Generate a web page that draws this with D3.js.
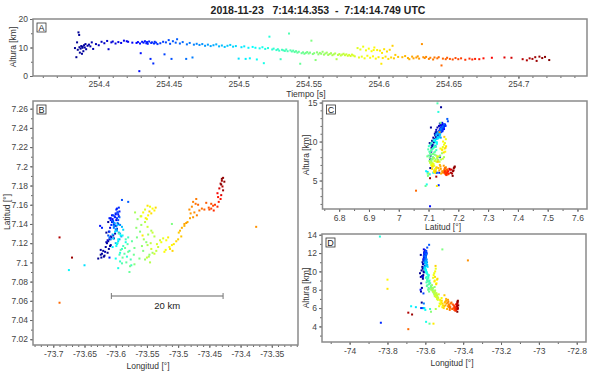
<!DOCTYPE html>
<html>
<head>
<meta charset="utf-8">
<script src="https://cdn.jsdelivr.net/npm/d3@7"></script>
<style>
body { margin: 0; background: #fff; }
svg { display: block; font-family: "Liberation Sans", Arial, sans-serif; }
.tick text { fill: #444; font-size: 8.5px; }
.tick line { stroke: #666; }
</style>
</head>
<body>
<div id="chart"></div>
<script>
// Fuentes: tiempo [s], altura [km], latitud [deg], longitud [deg]
var tiempo = [
  254.383, 254.384, 254.3845, 254.385, 254.3855, 254.386, 254.3862, 254.3865, 254.387, 254.3875, 254.388, 254.3883,
  254.3885, 254.389, 254.3895, 254.39, 254.3905, 254.391, 254.392, 254.393, 254.394, 254.395, 254.396,
  254.398, 254.4, 254.402, 254.404, 254.406, 254.407, 254.409, 254.41, 254.412, 254.414, 254.416, 254.418, 254.42, 254.421, 254.424,
  254.427, 254.428, 254.429, 254.4295, 254.43, 254.431, 254.432, 254.433, 254.434, 254.4345, 254.435, 254.436, 254.437, 254.4375,
  254.438, 254.439, 254.4395, 254.44, 254.441, 254.442,
  254.444, 254.446, 254.447, 254.448, 254.45, 254.451, 254.452, 254.453, 254.455, 254.456, 254.458, 254.46, 254.4625, 254.463,
  254.465, 254.467, 254.468, 254.47,
  254.472, 254.474, 254.476, 254.478, 254.48, 254.482, 254.484, 254.486, 254.488, 254.49, 254.492, 254.494, 254.496, 254.498,
  254.5, 254.502, 254.504, 254.505, 254.507, 254.508, 254.51,
  254.512, 254.513, 254.515, 254.517, 254.518, 254.519, 254.521, 254.522, 254.524, 254.525, 254.527, 254.528, 254.529, 254.53,
  254.531, 254.532, 254.533, 254.534, 254.535, 254.536, 254.537, 254.538, 254.539, 254.54, 254.541, 254.542, 254.543, 254.544,
  254.545, 254.546, 254.547, 254.548,
  254.549, 254.55, 254.551, 254.552, 254.553, 254.554, 254.555, 254.556, 254.557, 254.558, 254.559, 254.56, 254.561, 254.562,
  254.563, 254.564, 254.565, 254.566, 254.567, 254.568, 254.569, 254.57, 254.571, 254.572, 254.573, 254.574, 254.575, 254.576,
  254.577, 254.578, 254.579, 254.58, 254.581, 254.582, 254.583,
  254.585, 254.586, 254.587, 254.588, 254.589, 254.59, 254.591, 254.592, 254.593, 254.594, 254.595, 254.596, 254.5965, 254.597,
  254.598, 254.599, 254.6, 254.601, 254.602, 254.6025, 254.603, 254.604, 254.605, 254.606, 254.607, 254.608, 254.609, 254.61,
  254.611, 254.612, 254.614,
  254.617, 254.619, 254.621, 254.622, 254.624, 254.625, 254.627, 254.628, 254.629, 254.631, 254.632, 254.633, 254.634, 254.636,
  254.637, 254.639, 254.64, 254.642, 254.643, 254.645, 254.646, 254.648, 254.649,
  254.651, 254.653, 254.655, 254.657, 254.659, 254.662, 254.665, 254.667, 254.669, 254.672, 254.675, 254.681, 254.69, 254.695,
  254.703, 254.706, 254.708, 254.71, 254.712, 254.713, 254.715, 254.717, 254.719, 254.722
];
var altura = [
  9.8, 6.6, 11.8, 9.2, 15.3, 14.4, 10.1, 8.2, 9.6, 10.5, 7.8, 9.9,
  10.3, 8.7, 10.8, 10.0, 11.2, 9.4, 10.6, 11.0, 10.4, 11.8, 9.5,
  11.2, 10.8, 12.0, 11.5, 12.3, 9.4, 11.8, 12.1, 11.4, 11.9, 11.6, 12.4, 12.2, 12.0, 11.7,
  11.6, 11.9, 1.7, 11.4, 8.0, 12.0, 11.7, 12.2, 11.5, 11.9, 11.3, 12.1, 6.0, 11.6,
  11.8, 4.4, 11.4, 12.0, 11.7, 11.2,
  11.5, 12.0, 7.6, 11.8, 12.6, 11.3, 6.0, 12.2, 11.7, 12.9, 11.4, 11.9, 6.0, 11.1,
  11.6, 6.5, 11.0, 11.3,
  10.9, 11.2, 10.6, 11.0, 10.5, 10.8, 11.1, 10.4, 10.7, 10.2, 10.6, 10.9, 10.3, 10.5,
  6.1, 10.1, 10.4, 6.0, 9.9, 6.2, 10.2,
  9.9, 5.8, 9.7, 10.1, 4.5, 9.5, 9.8, 13.8, 9.3, 9.6, 9.1, 9.4, 8.9, 5.9,
  9.2, 9.0, 8.8, 9.3, 8.7, 14.9, 9.0, 8.6, 8.9, 8.4, 8.7, 8.2, 8.5, 4.3,
  8.0, 8.3, 7.8, 8.1,
  8.4, 7.9, 8.2, 12.4, 7.7, 8.0, 5.6, 8.3, 7.6, 8.1, 7.8, 8.5, 7.5, 7.9,
  8.2, 7.4, 7.7, 8.0, 7.3, 7.6, 7.9, 5.9, 7.4, 7.7, 7.2, 7.5, 7.8, 7.3,
  7.6, 7.1, 7.4, 7.0, 7.5, 7.2, 6.9,
  9.8, 6.5, 9.3, 6.8, 10.3, 6.2, 9.0, 7.1, 9.6, 6.4, 8.7, 6.9, 9.1, 10.0,
  6.1, 9.1, 6.6, 8.9, 4.3, 8.1, 6.3, 9.4, 6.8, 8.6, 6.0, 9.2, 6.5, 10.6,
  6.2, 7.4, 6.7,
  6.6, 7.0, 6.3, 5.9, 6.8, 6.2, 6.5, 6.9, 6.1, 11.2, 6.6, 6.3, 6.7, 6.0,
  6.4, 5.8, 6.5, 6.2, 6.6, 3.7, 6.1, 5.9, 6.4,
  6.0, 5.8, 6.3, 5.9, 6.2, 5.7, 6.1, 5.8, 6.0, 5.9, 6.2, 6.4, 6.5, 6.4,
  5.9, 5.5, 6.2, 6.0, 6.6, 5.3, 6.8, 6.3, 6.7, 5.6
];
var latitud = [
  7.104, 7.106, 7.108, 7.11, 7.131, 7.142, 7.112, 7.107, 7.114, 7.116, 7.105, 7.118,
  7.12, 7.109, 7.122, 7.117, 7.124, 7.113, 7.125, 7.121, 7.127, 7.13, 7.111,
  7.128, 7.132, 7.135, 7.126, 7.138, 7.123, 7.14, 7.142, 7.136, 7.144, 7.139, 7.146, 7.148, 7.145, 7.15,
  7.152, 7.149, 7.105, 7.147, 7.138, 7.153, 7.144, 7.155, 7.141, 7.15, 7.146, 7.156, 7.136, 7.143,
  7.151, 7.134, 7.139, 7.157, 7.148, 7.142,
  7.146, 7.149, 7.132, 7.144, 7.165, 7.14, 7.128, 7.152, 7.143, 7.163, 7.138, 7.147, 7.126, 7.136,
  7.141, 7.124, 7.134, 7.139,
  7.138, 7.131, 7.135, 7.127, 7.141, 7.124, 7.133, 7.129, 7.137, 7.12, 7.13, 7.139, 7.125, 7.134,
  7.097, 7.122, 7.132, 7.116, 7.128, 7.092, 7.119,
  7.124, 7.104, 7.128, 7.117, 7.094, 7.121, 7.11, 7.133, 7.12, 7.106, 7.114, 7.101, 7.126, 7.097,
  7.117, 7.112, 7.108, 7.124, 7.103, 7.13, 7.099, 7.119, 7.109, 7.113, 7.122, 7.1, 7.105, 7.09,
  7.115, 7.108, 7.111, 7.096,
  7.115, 7.104, 7.126, 7.14, 7.112, 7.132, 7.098, 7.121, 7.108, 7.136, 7.117, 7.145, 7.103, 7.129,
  7.139, 7.11, 7.124, 7.152, 7.106, 7.133, 7.118, 7.1, 7.127, 7.142, 7.112, 7.12, 7.148, 7.105,
  7.131, 7.116, 7.137, 7.109, 7.123, 7.114, 7.119,
  7.155, 7.125, 7.148, 7.113, 7.158, 7.121, 7.145, 7.116, 7.152, 7.123, 7.156, 7.111, 7.14, 7.149,
  7.118, 7.154, 7.126, 7.146, 7.128, 7.13, 7.119, 7.159, 7.114, 7.151, 7.122, 7.157, 7.112, 7.153,
  7.124, 7.131, 7.127,
  7.133, 7.138, 7.136, 7.142, 7.14, 7.146, 7.141, 7.151, 7.147, 7.137, 7.155, 7.152, 7.158, 7.149,
  7.163, 7.166, 7.154, 7.161, 7.156, 7.058, 7.16, 7.155, 7.162,
  7.157, 7.161, 7.155, 7.159, 7.156, 7.16, 7.154, 7.158, 7.163, 7.168, 7.166, 7.172, 7.17, 7.177,
  7.179, 7.126, 7.182, 7.175, 7.185, 7.105, 7.188, 7.184, 7.187, 7.181
];
var longitud = [
  -73.628, -73.619, -73.624, -73.613, -73.615, -73.612, -73.62, -73.618, -73.611, -73.616, -73.623, -73.608,
  -73.614, -73.622, -73.612, -73.609, -73.61, -73.624, -73.603, -73.615, -73.608, -73.601, -73.617,
  -73.604, -73.611, -73.598, -73.607, -73.601, -73.613, -73.596, -73.606, -73.609, -73.599, -73.603, -73.608, -73.595, -73.605, -73.6,
  -73.597, -73.606, -73.61, -73.601, -73.625, -73.594, -73.608, -73.599, -73.603, -73.596, -73.61, -73.598, -73.622, -73.604,
  -73.6, -73.835, -73.607, -73.595, -73.602, -73.605,
  -73.598, -73.604, -73.61, -73.596, -73.59, -73.602, -73.612, -73.597, -73.605, -73.58, -73.599, -73.594, -73.61, -73.603,
  -73.597, -73.608, -73.6, -73.593,
  -73.603, -73.595, -73.599, -73.591, -73.602, -73.594, -73.598, -73.605, -73.59, -73.6, -73.593, -73.597, -73.604, -73.588,
  -73.65, -73.596, -73.601, -73.605, -73.592, -73.675, -73.598,
  -73.596, -73.6, -73.589, -73.599, -73.596, -73.584, -73.593, -73.84, -73.597, -73.582, -73.59, -73.593, -73.58, -73.575,
  -73.588, -73.578, -73.594, -73.584, -73.576, -73.595, -73.59, -73.581, -73.586, -73.592, -73.574, -73.583, -73.589, -73.578,
  -73.585, -73.571, -73.58, -73.577,
  -73.57, -73.562, -73.566, -73.51, -73.556, -73.561, -73.57, -73.551, -73.546, -73.567, -73.558, -73.565, -73.553, -73.548,
  -73.559, -73.541, -73.555, -73.569, -73.547, -73.543, -73.549, -73.545, -73.538, -73.553, -73.535, -73.544, -73.56, -73.55,
  -73.541, -73.532, -73.549, -73.538, -73.529, -73.543, -73.534,
  -73.553, -73.524, -73.559, -73.52, -73.545, -73.527, -73.55, -73.514, -73.556, -73.519, -73.541, -73.522, -73.8, -73.548,
  -73.51, -73.538, -73.516, -73.552, -73.557, -73.8, -73.507, -73.549, -73.513, -73.543, -73.503, -73.536, -73.509, -73.546,
  -73.5, -73.499, -73.495,
  -73.497, -73.49, -73.494, -73.485, -73.49, -73.481, -73.487, -73.48, -73.476, -73.375, -73.482, -73.474, -73.478, -73.47,
  -73.476, -73.471, -73.466, -73.472, -73.462, -73.69, -73.468, -73.458, -73.455,
  -73.451, -73.447, -73.45, -73.444, -73.447, -73.441, -73.443, -73.437, -73.435, -73.436, -73.432, -73.437, -73.431, -73.434,
  -73.429, -73.69, -73.432, -73.428, -73.43, -73.67, -73.428, -73.426, -73.43, -73.431
];

var titulo = '2018-11-23   7:14:14.353  -  7:14:14.749 UTC';

// ticks de cada panel
var ticksA_x = [254.4, 254.45, 254.5, 254.55, 254.6, 254.65, 254.7];
var ticksA_y = [0, 10, 20];
var ticksB_x = [-73.7, -73.65, -73.6, -73.55, -73.5, -73.45, -73.4, -73.35];
var ticksB_y = [7.02, 7.04, 7.06, 7.08, 7.1, 7.12, 7.14, 7.16, 7.18, 7.2, 7.22, 7.24, 7.26];
var ticksC_x = [6.8, 6.9, 7, 7.1, 7.2, 7.3, 7.4, 7.5, 7.6];
var ticksC_y = [5, 10, 15];
var ticksD_x = [-74, -73.8, -73.6, -73.4, -73.2, -73, -72.8];
var ticksD_y = [4, 6, 8, 10, 12, 14];

// barra de escala en B
var escalaLon = [-73.607, -73.428];
var escalaLat = 7.065;
var escalaTexto = '20 km';

var chart_width = 600;
var chart_height = 374;

var puntos = tiempo.map(function (t, i) {
    return { t: t, alt: altura[i], lat: latitud[i], lon: longitud[i] };
});

// colormap tipo jet segun el tiempo
var tMin = d3.min(tiempo), tMax = d3.max(tiempo);
var color = d3.scaleLinear()
    .domain([0, 0.125, 0.375, 0.625, 0.875, 1].map(function (f) { return tMin + f * (tMax - tMin); }))
    .range(['#00008f', '#0000ff', '#00ffff', '#ffff00', '#ff0000', '#800000']);

var svg = d3.select('#chart')
    .append('svg')
    .attr('width', chart_width)
    .attr('height', chart_height);

svg.append('text')
    .attr('x', 318)
    .attr('y', 14)
    .attr('text-anchor', 'middle')
    .attr('font-size', 10.5)
    .attr('font-weight', 'bold')
    .attr('fill', '#222')
    .style('white-space', 'pre')
    .text(titulo);

function fmt(v) { return String(+v.toFixed(3)); }

function minorTicks(dom, step) {
    var a = Math.ceil(Math.min(dom[0], dom[1]) / step - 1e-9);
    var b = Math.floor(Math.max(dom[0], dom[1]) / step + 1e-9);
    return d3.range(a, b + 1).map(function (k) { return k * step; });
}

function panel(p) {
    var x = d3.scaleLinear().domain(p.xDom).range([p.x0, p.x1]);
    var y = d3.scaleLinear().domain(p.yDom).range([p.y1, p.y0]);
    var g = svg.append('g');
    var clipId = 'clip' + p.letra;

    svg.append('clipPath').attr('id', clipId)
        .append('rect')
        .attr('x', p.x0).attr('y', p.y0)
        .attr('width', p.x1 - p.x0).attr('height', p.y1 - p.y0);

    // ticks menores
    g.append('g')
        .attr('transform', 'translate(0,' + p.y1 + ')')
        .call(d3.axisBottom(x).tickValues(minorTicks(p.xDom, p.xMinor)).tickSize(2).tickFormat(''));
    g.append('g')
        .attr('transform', 'translate(' + p.x0 + ',0)')
        .call(d3.axisLeft(y).tickValues(minorTicks(p.yDom, p.yMinor)).tickSize(2).tickFormat(''));

    // ticks mayores
    g.append('g')
        .attr('transform', 'translate(0,' + p.y1 + ')')
        .call(d3.axisBottom(x).tickValues(p.xTicks).tickSize(3).tickPadding(p.pad || 3).tickFormat(fmt));
    g.append('g')
        .attr('transform', 'translate(' + p.x0 + ',0)')
        .call(d3.axisLeft(y).tickValues(p.yTicks).tickSize(3).tickPadding(2).tickFormat(fmt));

    g.selectAll('.domain').remove();

    // puntos
    g.append('g')
        .attr('clip-path', 'url(#' + clipId + ')')
        .selectAll('rect')
        .data(puntos)
        .enter()
        .append('rect')
        .attr('x', function (d) { return x(d[p.xKey]) - 1; })
        .attr('y', function (d) { return y(d[p.yKey]) - 1; })
        .attr('width', 2)
        .attr('height', 2)
        .attr('fill', function (d) { return color(d.t); });

    // marco
    g.append('rect')
        .attr('x', p.x0).attr('y', p.y0)
        .attr('width', p.x1 - p.x0).attr('height', p.y1 - p.y0)
        .attr('fill', 'none')
        .attr('stroke', '#8a8a8a')
        .attr('stroke-width', 1.5);

    // letra del panel
    g.append('rect')
        .attr('x', p.x0 + 4).attr('y', p.y0 + 4)
        .attr('width', 9).attr('height', 9)
        .attr('fill', '#fff')
        .attr('stroke', '#333')
        .attr('stroke-width', 0.8);
    g.append('text')
        .attr('x', p.x0 + 8.5).attr('y', p.y0 + 11.5)
        .attr('text-anchor', 'middle')
        .attr('font-size', 9)
        .attr('fill', '#222')
        .text(p.letra);

    // titulos de eje
    g.append('text')
        .attr('x', p.xLab[0]).attr('y', p.xLab[1])
        .attr('text-anchor', 'middle')
        .attr('font-size', 8.5)
        .attr('fill', '#333')
        .text(p.xTitulo);
    g.append('text')
        .attr('transform', 'translate(' + p.yLab[0] + ',' + p.yLab[1] + ') rotate(-90)')
        .attr('text-anchor', 'middle')
        .attr('font-size', 8.5)
        .attr('fill', '#333')
        .text(p.yTitulo);

    return { x: x, y: y, g: g };
}

panel({
    letra: 'A', x0: 33, x1: 587, y0: 19, y1: 76,
    xDom: [254.353, 254.749], yDom: [0, 20],
    xKey: 't', yKey: 'alt', pad: 2,
    xTicks: ticksA_x, yTicks: ticksA_y, xMinor: 0.01, yMinor: 5,
    xTitulo: 'Tiempo [s]', yTitulo: 'Altura [km]',
    xLab: [306, 96.5], yLab: [16, 47]
});

var B = panel({
    letra: 'B', x0: 33, x1: 298, y0: 101, y1: 345,
    xDom: [-73.7325, -73.308], yDom: [7.014, 7.268],
    xKey: 'lon', yKey: 'lat',
    xTicks: ticksB_x, yTicks: ticksB_y, xMinor: 0.01, yMinor: 0.01,
    xTitulo: 'Longitud [°]', yTitulo: 'Latitud [°]',
    xLab: [148, 369], yLab: [10, 212]
});

panel({
    letra: 'C', x0: 322.5, x1: 587, y0: 101, y1: 209,
    xDom: [6.744, 7.632], yDom: [1.35, 15.2],
    xKey: 'lat', yKey: 'alt',
    xTicks: ticksC_x, yTicks: ticksC_y, xMinor: 0.05, yMinor: 1,
    xTitulo: 'Latitud [°]', yTitulo: 'Altura [km]',
    xLab: [443, 230], yLab: [309, 155]
});

panel({
    letra: 'D', x0: 322, x1: 586, y0: 234, y1: 342,
    xDom: [-74.146, -72.751], yDom: [2.3, 14.08],
    xKey: 'lon', yKey: 'alt',
    xTicks: ticksD_x, yTicks: ticksD_y, xMinor: 0.1, yMinor: 1,
    xTitulo: 'Longitud [°]', yTitulo: 'Altura [km]',
    xLab: [452, 366], yLab: [309, 288]
});

// barra de escala de 20 km en B
var yBar = B.y(escalaLat);
B.g.append('line')
    .attr('x1', B.x(escalaLon[0])).attr('x2', B.x(escalaLon[1]))
    .attr('y1', yBar).attr('y2', yBar)
    .attr('stroke', '#999').attr('stroke-width', 1.5);
B.g.selectAll('.cap')
    .data(escalaLon)
    .enter()
    .append('line')
    .attr('x1', function (d) { return B.x(d); })
    .attr('x2', function (d) { return B.x(d); })
    .attr('y1', yBar - 3).attr('y2', yBar + 3)
    .attr('stroke', '#777').attr('stroke-width', 1);
B.g.append('text')
    .attr('x', (B.x(escalaLon[0]) + B.x(escalaLon[1])) / 2)
    .attr('y', yBar + 13)
    .attr('text-anchor', 'middle')
    .attr('font-size', 9.5)
    .attr('fill', '#222')
    .text(escalaTexto);
</script>
</body>
</html>
